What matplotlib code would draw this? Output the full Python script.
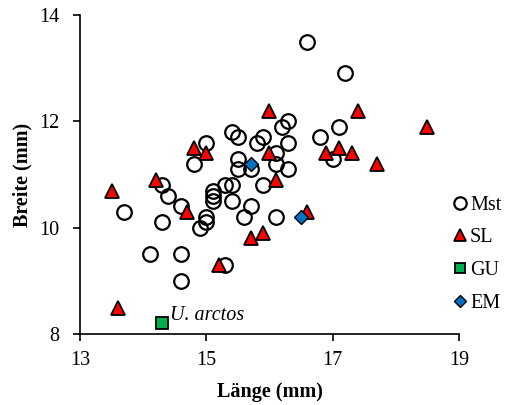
import matplotlib.pyplot as plt

plt.rcParams['font.family'] = ['Liberation Serif', 'DejaVu Serif']

# Mst (Länge, Breite)
mst_x = [16.6, 17.2, 16.3, 16.2, 17.1, 16.8, 15.4, 15.5, 15.9, 15.8, 15.0, 16.3,
         16.1, 14.8, 15.5, 15.5, 15.7, 16.1, 16.3, 17.0, 15.9, 15.3, 15.4, 15.1,
         15.1, 15.1, 15.4, 15.7, 15.6, 16.1, 15.0, 15.0, 14.9, 14.3, 14.4, 14.6,
         13.7, 14.3, 14.1, 14.6, 14.6, 15.3]
mst_y = [13.5, 12.9, 12.0, 11.9, 11.9, 11.7, 11.8, 11.7, 11.7, 11.6, 11.6, 11.6,
         11.4, 11.2, 11.3, 11.1, 11.1, 11.2, 11.1, 11.3, 10.8, 10.8, 10.8, 10.7,
         10.6, 10.5, 10.5, 10.4, 10.2, 10.2, 10.2, 10.1, 10.0, 10.8, 10.6, 10.4,
         10.3, 10.1, 9.5, 9.5, 9.0, 9.3]

# SL
sl_x = [13.5, 14.2, 14.7, 14.8, 15.0, 13.6, 15.2, 15.7, 15.9, 16.0, 16.0, 16.1,
        16.6, 16.9, 17.1, 17.3, 17.4, 17.7, 18.5]
sl_y = [10.7, 10.9, 10.3, 11.5, 11.4, 8.5, 9.3, 9.8, 9.9, 12.2, 11.4, 10.9,
        10.3, 11.4, 11.5, 11.4, 12.2, 11.2, 11.9]

# GU
gu_x = [14.3]
gu_y = [8.2]

# EM
em_x = [15.7, 16.5]
em_y = [11.2, 10.2]

fs = 14.5

fig = plt.figure(figsize=(5.07, 4.05), dpi=100)
ax = fig.add_axes([0.158, 0.175, 0.747, 0.788])

ax.plot(mst_x, mst_y, 'o', ms=10.5, mfc='none', mec='black', mew=1.6, label='Mst')
ax.plot(sl_x, sl_y, '^', ms=10.5, mfc='#ff0000', mec='black', mew=1.3, label='SL')
ax.plot(gu_x, gu_y, 's', ms=9, mfc='#00b050', mec='black', mew=1.3, label='GU')
ax.plot(em_x, em_y, 'D', ms=7.5, mfc='#0070c0', mec='black', mew=1.0, label='EM')

ax.annotate('U. arctos', (gu_x[0], gu_y[0]), xytext=(6, -1), textcoords='offset points',
            fontsize=fs, style='italic', va='bottom')

ax.set_xlim(13, 19)
ax.set_ylim(8, 14)
ax.set_xticks([13, 15, 17, 19])
ax.set_yticks([8, 10, 12, 14])
ax.tick_params(direction='out', length=5, width=1.2, labelsize=fs)
ax.tick_params(axis='x', pad=7)
ax.tick_params(axis='y', pad=10)
for s in ['top', 'right']:
    ax.spines[s].set_visible(False)
for s in ['left', 'bottom']:
    ax.spines[s].set_linewidth(1.2)

ax.set_xlabel('Länge (mm)', fontsize=fs, fontweight='bold', labelpad=9)
ax.set_ylabel('Breite (mm)', fontsize=fs, fontweight='bold', labelpad=5)

ax.legend(loc='center left', bbox_to_anchor=(0.955, 0.25), frameon=False,
          fontsize=fs, handletextpad=0.0, labelspacing=0.68, markerscale=0.85,
          handlelength=1.0, borderaxespad=0)

fig.savefig('out.png', dpi=100)
